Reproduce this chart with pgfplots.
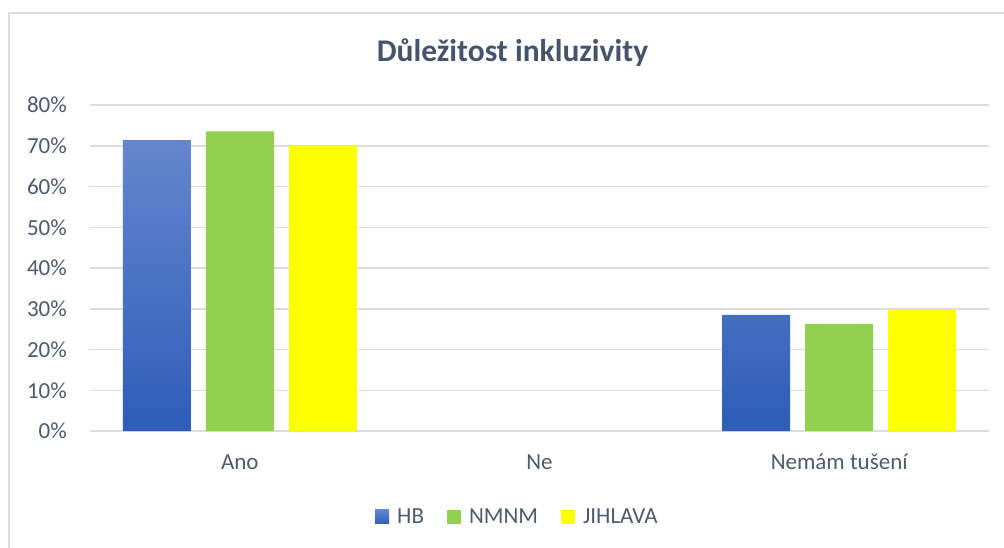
\documentclass[border=0pt]{standalone}
\usepackage{fontspec}
\setmainfont{Carlito}
\usepackage{pgfplots}
\pgfplotsset{compat=1.18}
\definecolor{titlec}{HTML}{44546A}
\definecolor{labelc}{HTML}{4E5B6F}
\definecolor{gridc}{HTML}{D9DEE4}
\definecolor{hbtop}{HTML}{6586CE}
\definecolor{hbbot}{HTML}{2D5DB8}
\definecolor{nmnm}{HTML}{92D050}
\definecolor{jihl}{HTML}{FFFF00}
\begin{document}
\begin{tikzpicture}[x=1pt,y=1pt]
\path[use as bounding box] (0,0) rectangle (1004,547);
\fill[white] (0,0) rectangle (1004,547);
\draw[gridc, line width=1.5pt] (9,-5) -- (9,534) -- (1010,534);
\node[anchor=base, font=\fontsize{31.5}{36}\selectfont\bfseries, text=titlec, inner sep=0pt] at (512.5,485) {Důležitost inkluzivity};
\begin{axis}[
  at={(90pt,116pt)}, anchor=south west,
  scale only axis, width=899pt, height=326pt,
  xmin=-0.5, xmax=2.5, ymin=0, ymax=80,
  ytick={0,10,...,80},
  yticklabel={\pgfmathprintnumber{\tick}\%},
  xtick={0,1,2},
  xticklabels={Ano,Ne,Nemám tušení},
  axis line style={draw=none},
  major tick length=0pt,
  ymajorgrids, grid style={gridc, line width=1.5pt},
  tick label style={font=\fontsize{23}{27}\selectfont, text=labelc},
  /pgf/number format/assume math mode=true,
  yticklabel style={inner sep=0pt, xshift=-23pt},
  xticklabel style={anchor=base, inner sep=0pt, yshift=-38pt},
  ybar, bar width=68pt,
  legend style={at={(0.4755,-0.263)}, anchor=center, draw=none, fill=none,
    legend columns=-1, font=\fontsize{23}{27}\selectfont, text=labelc,
    inner sep=0pt,
    /tikz/every odd column/.append style={column sep=6pt},
    /tikz/every even column/.append style={column sep=21pt}},
  legend image code/.code={\fill[#1] (0pt,-7pt) rectangle (14pt,7pt);},
  legend cell align=left,
]
\addplot[draw=none, top color=hbtop, bottom color=hbbot, bar shift=-83pt, restrict y to domain=0.001:100] coordinates {(0,71.4) (1,0) (2,28.5)};
\addplot[draw=none, fill=nmnm, bar shift=0pt, restrict y to domain=0.001:100] coordinates {(0,73.5) (1,0) (2,26.3)};
\addplot[draw=none, fill=jihl, bar shift=83pt, restrict y to domain=0.001:100] coordinates {(0,69.9) (1,0) (2,29.9)};
\legend{HB,NMNM,JIHLAVA}
\end{axis}
\end{tikzpicture}
\end{document}
